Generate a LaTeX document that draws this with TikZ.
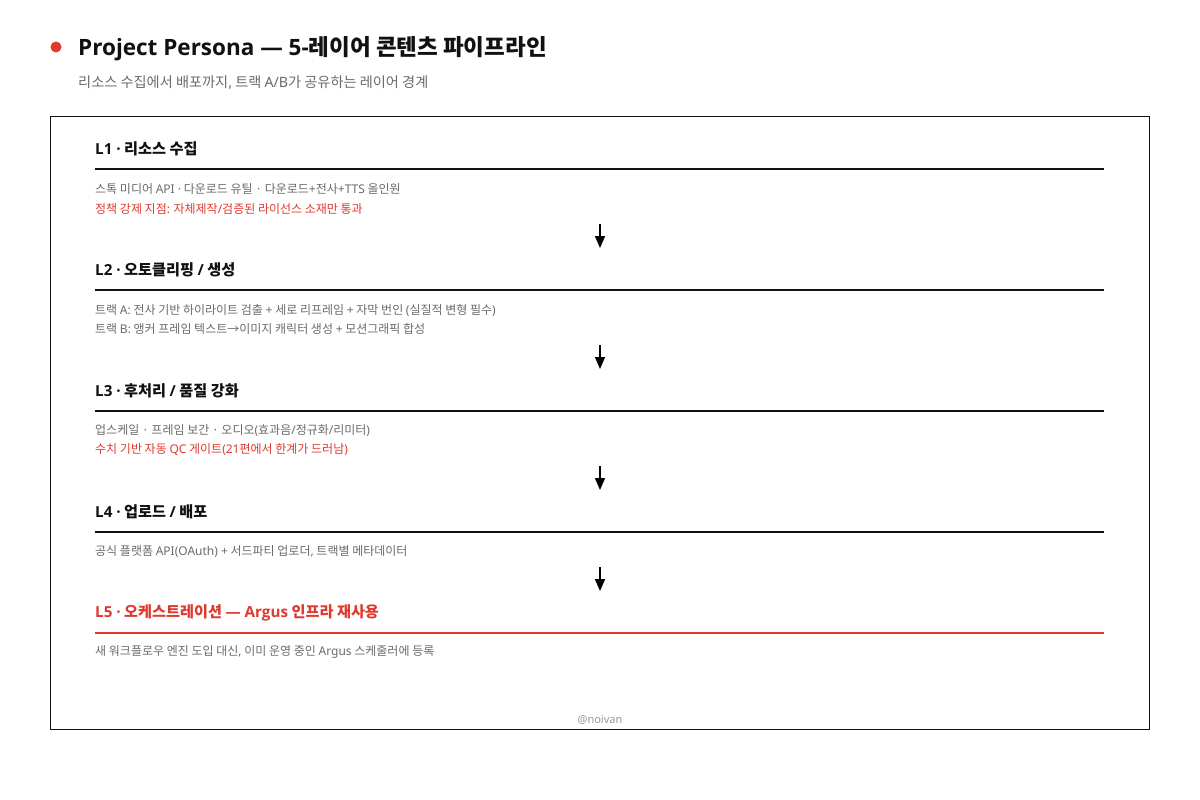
\documentclass[tikz,border=0pt]{standalone}
\usepackage{fontspec}
\setmainfont{Noto Sans CJK KR}
\newfontfamily\enfont{Noto Sans}
\newfontfamily\enbfont{Open Sans}
\newcommand\en[1]{{\enfont #1}}
\newcommand\enb[1]{{\enbfont\bfseries #1}}
\usetikzlibrary{arrows.meta}
\definecolor{accent}{HTML}{E0392E}
\definecolor{ink}{HTML}{111111}
\definecolor{muted}{HTML}{6B6B6B}
\tikzset{
  title/.style={anchor=west, inner sep=0pt, font=\fontsize{22.5}{26}\selectfont\bfseries, text=ink},
  subtitle/.style={anchor=west, inner sep=0pt, font=\fontsize{14.2}{17}\selectfont, text=muted},
  layerhead/.style={anchor=west, inner sep=0pt, font=\fontsize{15.2}{18}\selectfont\bfseries, text=ink},
  body/.style={anchor=west, inner sep=0pt, font=\fontsize{12}{14}\selectfont, text=muted},
  warn/.style={body, text=accent},
  rule/.style={line width=2pt, draw=ink},
  flow/.style={line width=1.5pt, draw=black, -{Triangle[width=10pt,length=12pt]}},
}
\begin{document}
\begin{tikzpicture}[x=1pt,y=-1pt]
\useasboundingbox[fill=white] (0,0) rectangle (1200,800);
% header
\fill[accent] (56,47) circle (5.5);
\node[title] (ttl) at (78,49) {\enb{Project Persona — 5-}레이어 콘텐츠 파이프라인};
\node[subtitle] (sub) at (78,83) {리소스 수집에서 배포까지\en{,} 트랙 \en{A/B}가 공유하는 레이어 경계};
% frame
\draw[line width=1pt, draw=ink] (50,116) rectangle (1149,729);
% L1
\node[layerhead] (h1) at (95,149) {\enb{L1 ·} 리소스 수집};
\draw[rule] (95,169) -- (1104,169);
\node[body] (t1a) at (95,189) {스톡 미디어 \en{API ·} 다운로드 유틸 · 다운로드\en{+}전사\en{+TTS} 올인원};
\node[warn] (t1b) at (95,209) {정책 강제 지점\en{:} 자체제작\en{/}검증된 라이선스 소재만 통과};
\coordinate (a1s) at (600,224);
\coordinate (a1e) at (600,248);
\draw[flow] (a1s) -- (a1e);
% L2
\node[layerhead] (h2) at (95,270) {\enb{L2 ·} 오토클리핑 \enb{/} 생성};
\draw[rule] (95,290) -- (1104,290);
\node[body] (t2a) at (95,310) {트랙 \en{A:} 전사 기반 하이라이트 검출 \en{+} 세로 리프레임 \en{+} 자막 번인 \en{(}실질적 변형 필수\en{)}};
\node[body] (t2b) at (95,329) {트랙 \en{B:} 앵커 프레임 텍스트→이미지 캐릭터 생성 \en{+} 모션그래픽 합성};
\coordinate (a2s) at (600,345);
\coordinate (a2e) at (600,369);
\draw[flow] (a2s) -- (a2e);
% L3
\node[layerhead] (h3) at (95,391) {\enb{L3 ·} 후처리 \enb{/} 품질 강화};
\draw[rule] (95,411) -- (1104,411);
\node[body] (t3a) at (95,430) {업스케일 · 프레임 보간 · 오디오\en{(}효과음\en{/}정규화\en{/}리미터\en{)}};
\node[warn] (t3b) at (95,450) {수치 기반 자동 \en{QC} 게이트\en{(21}편에서 한계가 드러남\en{)}};
\coordinate (a3s) at (600,466);
\coordinate (a3e) at (600,490);
\draw[flow] (a3s) -- (a3e);
% L4
\node[layerhead] (h4) at (95,512) {\enb{L4 ·} 업로드 \enb{/} 배포};
\draw[rule] (95,532) -- (1104,532);
\node[body] (t4a) at (95,551) {공식 플랫폼 \en{API(OAuth) +} 서드파티 업로더\en{,} 트랙별 메타데이터};
\coordinate (a4s) at (600,567);
\coordinate (a4e) at (600,591);
\draw[flow] (a4s) -- (a4e);
% L5
\node[layerhead, text=accent] (h5) at (95,613) {\enb{L5 ·} 오케스트레이션 \enb{— Argus} 인프라 재사용};
\draw[rule, draw=accent] (95,633) -- (1104,633);
\node[body] (t5a) at (95,652) {새 워크플로우 엔진 도입 대신\en{,} 이미 운영 중인 \en{Argus} 스케줄러에 등록};
% credit
\node[inner sep=0pt, font=\fontsize{11}{13}\selectfont\enfont, text=muted!70] (credit) at (600,720) {@noivan};
\end{tikzpicture}
\end{document}
